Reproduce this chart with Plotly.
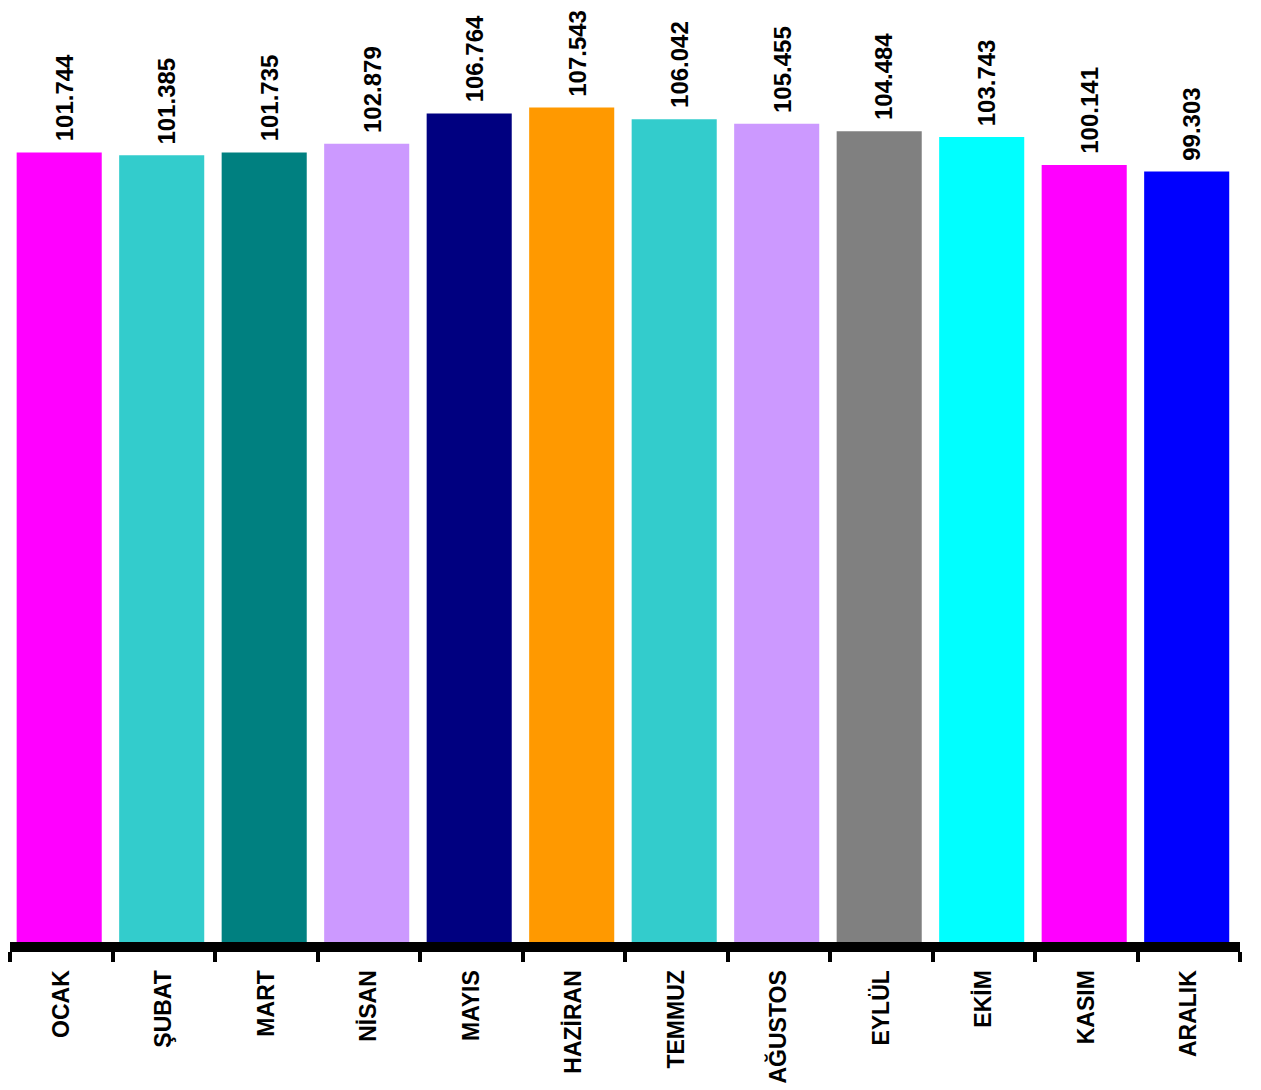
import plotly.graph_objects as go

months = ["OCAK", "ŞUBAT", "MART", "NİSAN", "MAYIS", "HAZİRAN", "TEMMUZ",
          "AĞUSTOS", "EYLÜL", "EKİM", "KASIM", "ARALIK"]
values = [101.744, 101.385, 101.735, 102.879, 106.764, 107.543, 106.042,
          105.455, 104.484, 103.743, 100.141, 99.303]
labels = ["101.744", "101.385", "101.735", "102.879", "106.764", "107.543",
          "106.042", "105.455", "104.484", "103.743", "100.141", "99.303"]
colors = ["#FF00FF", "#33CCCC", "#008080", "#CC99FF", "#000080", "#FF9900",
          "#33CCCC", "#CC99FF", "#808080", "#00FFFF", "#FF00FF", "#0000FF"]

FONT = "Liberation Sans, Arial, sans-serif"

fig = go.Figure()
fig.add_trace(go.Bar(x=months, y=values, width=0.83, offset=-0.435,
                     marker=dict(color=colors, line=dict(width=0)),
                     hoverinfo="x+y"))

for m, v, t in zip(months, values, labels):
    fig.add_annotation(x=m, y=v, text="<b>%s</b>" % t, textangle=-90,
                       showarrow=False, xanchor="center", yanchor="bottom",
                       yshift=9, xshift=3,
                       font=dict(family=FONT, size=24, color="black"))

fig.update_layout(
    width=1261, height=1090,
    margin=dict(l=2, r=29, t=6, b=156),
    paper_bgcolor="white", plot_bgcolor="white",
    showlegend=False,
    xaxis=dict(
        showline=True, linecolor="black", linewidth=10,
        ticks="outside", tickson="boundaries", ticklen=10, tickwidth=4,
        tickcolor="black", tickangle=-90, ticklabelstandoff=9,
        tickfont=dict(family=FONT, size=23, color="black"),
        tickprefix="<b>", ticksuffix="</b>",
        showgrid=False, zeroline=False,
    ),
    yaxis=dict(range=[0, 119.6], visible=False, showgrid=False, zeroline=False),
)

fig.write_html("out.html")
